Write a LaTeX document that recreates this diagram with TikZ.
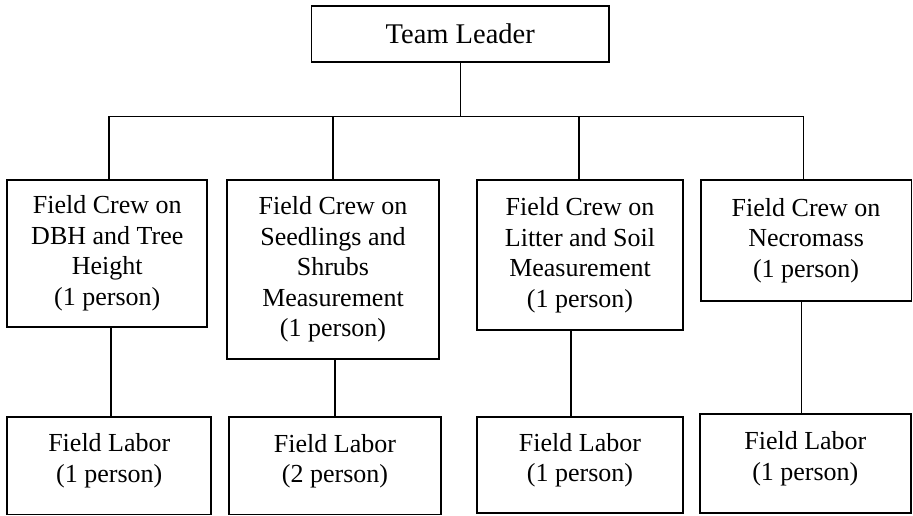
\documentclass[tikz,border=0pt]{standalone}
\usepackage{fontspec}
\setmainfont{Liberation Serif}
\begin{document}
\begin{tikzpicture}[x=1pt,y=-1pt,
  boxstyle/.style={draw=black,line width=1.8pt,inner sep=0pt,align=center,
    font=\fontsize{26}{30.5}\selectfont},
  linkstyle/.style={draw=black,line width=1.5pt}]
\useasboundingbox (0,0) rectangle (913,516);
\newcommand{\dropfix}{\rule[-15pt]{0pt}{15pt}}
\node[boxstyle,minimum width=297.5pt,minimum height=56.3pt,font=\fontsize{28.5}{33}\selectfont] (tl) at (460.25,33.85) {Team Leader};
\node[boxstyle,minimum width=200pt,minimum height=146.7pt] (b1) at (107.3,253.35) {Field Crew on\\DBH and Tree\\Height\\(1 person)};
\node[boxstyle,minimum width=212pt,minimum height=179.3pt] (b2) at (333,269.65) {Field Crew on\\Seedlings and\\Shrubs\\Measurement\\(1 person)};
\node[boxstyle,minimum width=206.6pt,minimum height=150.3pt] (b3) at (580,255.15) {Field Crew on\\Litter and Soil\\Measurement\\(1 person)};
\node[boxstyle,minimum width=210.8pt,minimum height=120.7pt] (b4) at (806.1,240.35) {Field Crew on\\Necromass\\(1 person)};
\node[boxstyle,minimum width=204pt,minimum height=97.8pt] (l1) at (109.3,465.6) {Field Labor\\(1 person)\dropfix};
\node[boxstyle,minimum width=212pt,minimum height=97.5pt] (l2) at (335,465.75) {Field Labor\\(2 person)\dropfix};
\node[boxstyle,minimum width=206.6pt,minimum height=96.3pt] (l3) at (580,465.15) {Field Labor\\(1 person)\dropfix};
\node[boxstyle,minimum width=211.3pt,minimum height=98.7pt] (l4) at (805.35,463.35) {Field Labor\\(1 person)\dropfix};
\coordinate (bus) at (460,116.3);
\draw[linkstyle] (tl.south) -- (tl.south |- bus);
\draw[linkstyle] ([xshift=1.7pt]b1.north) |- ([xshift=-2.6pt]b4.north |- bus) -- ([xshift=-2.6pt]b4.north);
\draw[linkstyle] (b2.north) -- (b2.north |- bus);
\draw[linkstyle] ([xshift=-1.2pt]b3.north) -- ([xshift=-1.2pt]b3.north |- bus);
\draw[linkstyle] ([xshift=3.7pt]b1.south) -- ([xshift=3.7pt]b1.south |- l1.north);
\draw[linkstyle] ([xshift=2pt]b2.south) -- ([xshift=2pt]b2.south |- l2.north);
\draw[linkstyle] ([xshift=-9pt]b3.south) -- ([xshift=-9pt]b3.south |- l3.north);
\draw[linkstyle] ([xshift=-4.8pt]b4.south) -- ([xshift=-4.8pt]b4.south |- l4.north);
\end{tikzpicture}
\end{document}
